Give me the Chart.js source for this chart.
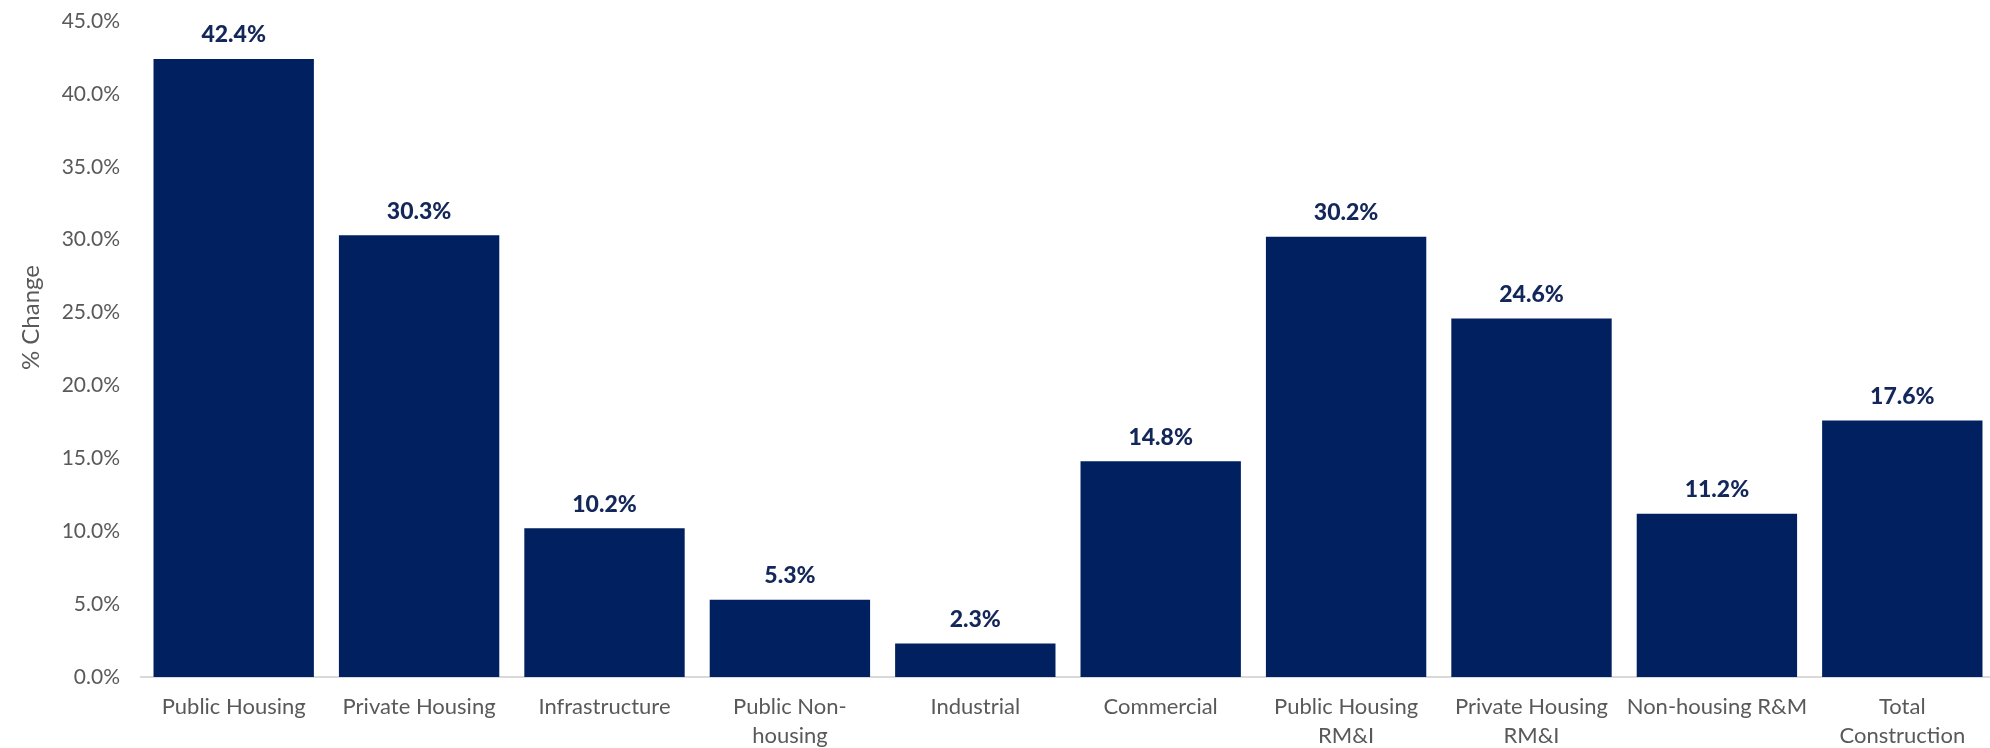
<!DOCTYPE html>
<html>
<head>
<meta charset="utf-8">
<script src="https://cdn.jsdelivr.net/npm/chart.js@4.4.1/dist/chart.umd.min.js"></script>
<style>
  html, body { margin: 0; padding: 0; background: #ffffff; overflow: hidden; }
  #wrap { position: relative; width: 1996px; height: 748px; }
</style>
</head>
<body>
<div id="wrap"><canvas id="c"></canvas></div>
<script>
const categories = [
  "Public Housing",
  "Private Housing",
  "Infrastructure",
  ["Public Non-", "housing"],
  "Industrial",
  "Commercial",
  ["Public Housing", "RM&I"],
  ["Private Housing", "RM&I"],
  "Non-housing R&M",
  ["Total", "Construction"]
];
const percentChange = [42.4, 30.3, 10.2, 5.3, 2.3, 14.8, 30.2, 24.6, 11.2, 17.6];
const yTickMin = 0;
const yTickMax = 45;
const yTickStep = 5;
const yAxisTitle = "% Change";

const FONT = "Lato, 'Open Sans', sans-serif";
const GREY = "#595959";
const NAVY = "#002060";

const valueLabels = {
  id: 'valueLabels',
  afterDatasetsDraw(chart) {
    const ctx = chart.ctx;
    const meta = chart.getDatasetMeta(0);
    ctx.save();
    ctx.font = "900 23px " + FONT;
    ctx.fillStyle = "#13275a";
    ctx.textAlign = "center";
    ctx.textBaseline = "middle";
    meta.data.forEach((bar, i) => {
      ctx.fillText(percentChange[i].toFixed(1) + "%", bar.x, bar.y - 24);
    });
    ctx.restore();
  }
};

const axisTitle = {
  id: 'axisTitle',
  afterDraw(chart) {
    const ctx = chart.ctx;
    const a = chart.chartArea;
    ctx.save();
    ctx.font = "24px " + FONT;
    ctx.fillStyle = GREY;
    ctx.textAlign = "center";
    ctx.textBaseline = "middle";
    ctx.translate(31, a.top + (a.bottom - a.top) * 0.452);
    ctx.rotate(-Math.PI / 2);
    ctx.fillText(yAxisTitle, 0, 0);
    ctx.restore();
  }
};

new Chart(document.getElementById('c'), {
  type: 'bar',
  data: {
    labels: categories,
    datasets: [{
      data: percentChange,
      backgroundColor: NAVY,
      borderWidth: 0,
      categoryPercentage: 1.0,
      barPercentage: 0.865
    }]
  },
  options: {
    responsive: true,
    maintainAspectRatio: false,
    animation: false,
    layout: { padding: { top: 21, right: 1, left: 0, bottom: 0 } },
    plugins: {
      legend: { display: false },
      tooltip: { enabled: false }
    },
    scales: {
      x: {
        grid: { display: false, drawTicks: false },
        border: { display: true, color: "#d9d9d9", width: 2 },
        ticks: {
          color: GREY,
          font: { family: FONT, size: 22, lineHeight: 1.3 },
          padding: 16,
          maxRotation: 0,
          autoSkip: false
        },
        afterFit(scale) { scale.height = 71; }
      },
      y: {
        min: yTickMin,
        max: yTickMax,
        grid: { display: false, drawTicks: false },
        border: { display: false },
        ticks: {
          stepSize: yTickStep,
          color: GREY,
          font: { family: FONT, size: 21 },
          padding: 21,
          callback: v => v.toFixed(1) + "%"
        },
        afterFit(scale) { scale.width = 141; scale.paddingTop = 0; scale.paddingBottom = 0; }
      }
    }
  },
  plugins: [valueLabels, axisTitle]
});
</script>
</body>
</html>
